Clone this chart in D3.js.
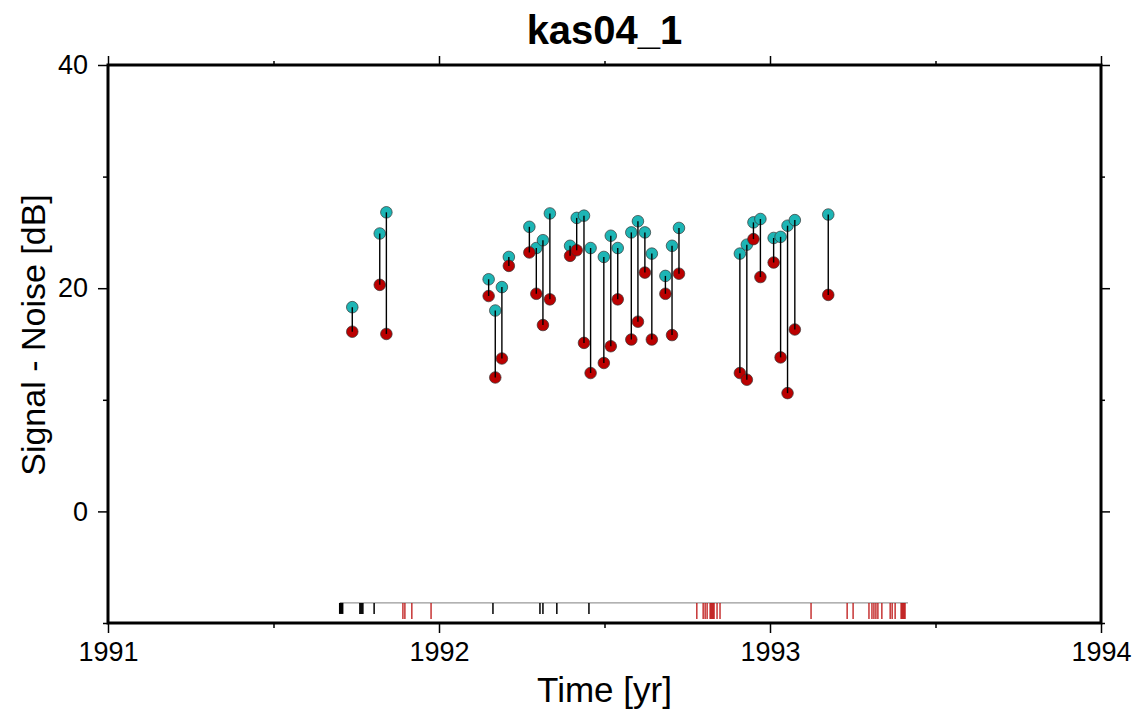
<!DOCTYPE html>
<html lang="en">
<head>
<meta charset="utf-8">
<title>kas04_1</title>
<script src="https://d3js.org/d3.v7.min.js"></script>
<style>
  body { margin: 0; background: #fff; }
  text { font-family: "Liberation Sans", Arial, Helvetica, sans-serif; }
</style>
</head>
<body>
<div id="main"></div>
<script>

// epoch of each observation pair [yr]
var epochs = [1991.738, 1991.821, 1991.841, 1992.150, 1992.170, 1992.190, 1992.211,
  1992.273, 1992.294, 1992.314, 1992.335, 1992.396, 1992.416, 1992.438, 1992.458,
  1992.498, 1992.519, 1992.540, 1992.581, 1992.601, 1992.622, 1992.643, 1992.684,
  1992.704, 1992.725, 1992.909, 1992.930, 1992.950, 1992.971, 1993.011, 1993.032,
  1993.053, 1993.075, 1993.176];

// upper (cyan) values [dB]
var upperSnr = [18.3, 24.9, 26.8, 20.8, 18.0, 20.1, 22.8,
  25.5, 23.6, 24.3, 26.7, 23.8, 26.3, 26.5, 23.6,
  22.8, 24.7, 23.6, 25.0, 26.0, 25.0, 23.1, 21.1,
  23.8, 25.4, 23.1, 23.9, 25.9, 26.2, 24.5, 24.6,
  25.6, 26.1, 26.6];

// lower (red) values [dB]
var lowerSnr = [16.1, 20.3, 15.9, 19.3, 12.0, 13.7, 22.0,
  23.2, 19.5, 16.7, 19.0, 22.9, 23.4, 15.1, 12.4,
  13.3, 14.8, 19.0, 15.4, 17.0, 21.4, 15.4, 19.5,
  15.8, 21.3, 12.4, 11.8, 24.4, 21.0, 22.3, 13.8,
  10.6, 16.3, 19.4];

// availability strip at the bottom
var stripSpan = [1991.701, 1993.417];
var blackEpochs = [1991.700, 1991.703, 1991.706, 1991.709, 1991.761, 1991.764,
  1991.767, 1991.770, 1991.804, 1992.163, 1992.305, 1992.314, 1992.356, 1992.453];
var redEpochs = [1991.891, 1991.897, 1991.918, 1991.976,
  1992.779, 1992.798, 1992.804, 1992.810, 1992.819, 1992.822, 1992.825, 1992.828,
  1992.831, 1992.840, 1992.849, 1993.124, 1993.233, 1993.251, 1993.299, 1993.308,
  1993.314, 1993.320, 1993.326, 1993.338, 1993.363, 1993.369, 1993.378, 1993.396,
  1993.399, 1993.402, 1993.405, 1993.408];
var stripLevel = -8.2;

var xMajor = [1991, 1992, 1993, 1994];
var xMinor = [1991.5, 1992.5, 1993.5];
var yMajor = [0, 20, 40];
var yMinor = [-10, 10, 30];

var W = 1139, H = 713;
var pLeft = 108, pRight = 1101, pTop = 65, pBottom = 623;

var svg = d3.select("#main")
  .append("svg")
  .attr("width", W)
  .attr("height", H);

var x = d3.scaleLinear().domain([1991, 1994]).range([pLeft, pRight]);
var y = d3.scaleLinear().domain([-10, 40]).range([pBottom, pTop]);

function styleAxis(g) {
  g.select(".domain").remove();
  g.selectAll(".tick line").attr("stroke", "#000").attr("stroke-width", 1.5);
  g.selectAll(".tick text").attr("fill", "#000").style("font-size", "27px");
}

// bottom
svg.append("g").attr("transform", "translate(0," + pBottom + ")")
  .call(d3.axisBottom(x).tickValues(xMajor).tickFormat(d3.format("d")).tickSize(10).tickPadding(9))
  .call(styleAxis);
svg.append("g").attr("transform", "translate(0," + pBottom + ")")
  .call(d3.axisBottom(x).tickValues(xMinor).tickFormat("").tickSize(5))
  .call(styleAxis);
// top
svg.append("g").attr("transform", "translate(0," + pTop + ")")
  .call(d3.axisTop(x).tickValues(xMajor).tickFormat("").tickSize(9))
  .call(styleAxis);
svg.append("g").attr("transform", "translate(0," + pTop + ")")
  .call(d3.axisTop(x).tickValues(xMinor).tickFormat("").tickSize(4))
  .call(styleAxis);
// left
svg.append("g").attr("transform", "translate(" + pLeft + ",0)")
  .call(d3.axisLeft(y).tickValues(yMajor).tickFormat(d3.format("d")).tickSize(10).tickPadding(10))
  .call(styleAxis);
svg.append("g").attr("transform", "translate(" + pLeft + ",0)")
  .call(d3.axisLeft(y).tickValues(yMinor).tickFormat("").tickSize(5))
  .call(styleAxis);
// right
svg.append("g").attr("transform", "translate(" + pRight + ",0)")
  .call(d3.axisRight(y).tickValues(yMajor).tickFormat("").tickSize(9))
  .call(styleAxis);
svg.append("g").attr("transform", "translate(" + pRight + ",0)")
  .call(d3.axisRight(y).tickValues(yMinor).tickFormat("").tickSize(4))
  .call(styleAxis);

// frame
svg.append("rect")
  .attr("x", pLeft).attr("y", pTop)
  .attr("width", pRight - pLeft).attr("height", pBottom - pTop)
  .attr("fill", "none").attr("stroke", "#000").attr("stroke-width", 3);

// strip
var sy = y(stripLevel);
svg.append("line")
  .attr("x1", x(stripSpan[0])).attr("x2", x(stripSpan[1]))
  .attr("y1", sy).attr("y2", sy)
  .attr("stroke", "#999").attr("stroke-width", 1.2);
svg.selectAll(".blk").data(blackEpochs).enter().append("line")
  .attr("x1", function(d) { return x(d); }).attr("x2", function(d) { return x(d); })
  .attr("y1", sy).attr("y2", sy + 11)
  .attr("stroke", "#000").attr("stroke-width", 1.5);
svg.selectAll(".red").data(redEpochs).enter().append("line")
  .attr("x1", function(d) { return x(d); }).attr("x2", function(d) { return x(d); })
  .attr("y1", sy).attr("y2", sy + 16)
  .attr("stroke", "#b80000").attr("stroke-width", 1.2);

// points
var data = epochs.map(function(t, i) {
  return { t: t, up: upperSnr[i], lo: lowerSnr[i] };
});

svg.selectAll(".up").data(data).enter().append("circle")
  .attr("cx", function(d) { return x(d.t); })
  .attr("cy", function(d) { return y(d.up); })
  .attr("r", 5.8)
  .attr("fill", "#1db5b5").attr("stroke", "#333").attr("stroke-width", 0.7);

svg.selectAll(".lo").data(data).enter().append("circle")
  .attr("cx", function(d) { return x(d.t); })
  .attr("cy", function(d) { return y(d.lo); })
  .attr("r", 5.8)
  .attr("fill", "#bb0000").attr("stroke", "#333").attr("stroke-width", 0.7);

svg.selectAll(".link").data(data).enter().append("line")
  .attr("x1", function(d) { return x(d.t); }).attr("x2", function(d) { return x(d.t); })
  .attr("y1", function(d) { return y(d.up); }).attr("y2", function(d) { return y(d.lo); })
  .attr("stroke", "#000").attr("stroke-width", 1.4);

// labels
svg.append("text")
  .attr("x", (pLeft + pRight) / 2).attr("y", 44)
  .attr("text-anchor", "middle")
  .style("font-size", "40px").style("font-weight", "bold")
  .text("kas04_1");

svg.append("text")
  .attr("x", (pLeft + pRight) / 2).attr("y", 702)
  .attr("text-anchor", "middle")
  .style("font-size", "35px")
  .text("Time [yr]");

svg.append("text")
  .attr("transform", "translate(45,335) rotate(-90)")
  .attr("text-anchor", "middle")
  .style("font-size", "34px")
  .text("Signal - Noise [dB]");

</script>
</body>
</html>
